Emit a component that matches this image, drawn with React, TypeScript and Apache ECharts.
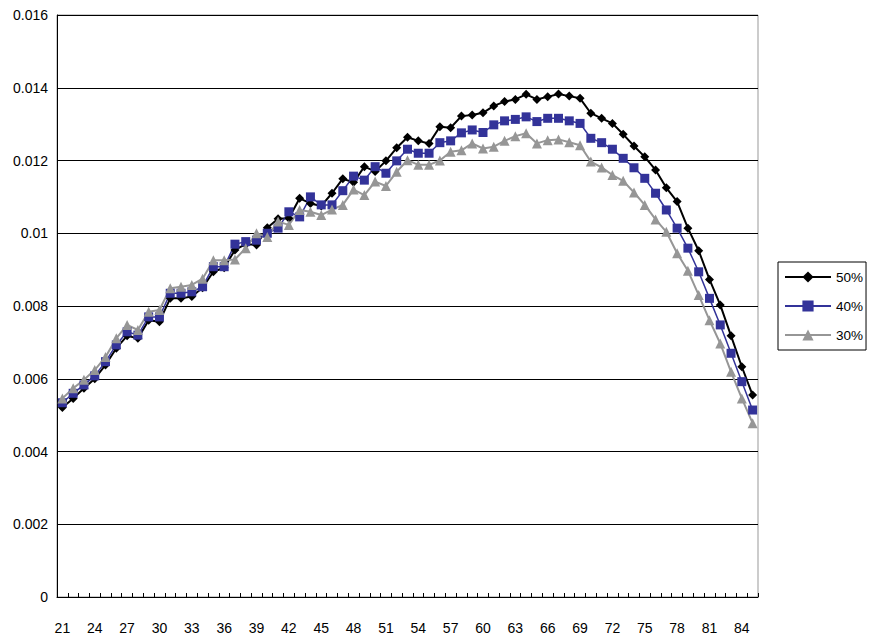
import React, { useEffect, useRef } from "react";
import * as echarts from "echarts";

const ages: string[] = [];
for (let a = 21; a <= 85; a++) ages.push(String(a));

const legendNames = ["50%", "40%", "30%"];

const s50 = [
  0.00521, 0.00546, 0.00574, 0.006, 0.00638, 0.00684, 0.00718, 0.00711, 0.00761, 0.00757,
  0.00821, 0.00821, 0.00826, 0.0085, 0.00894, 0.00905, 0.00954, 0.0097, 0.00968, 0.01015,
  0.0104, 0.01041, 0.01096, 0.01082, 0.01075, 0.0111, 0.0115, 0.0114, 0.01183, 0.0117,
  0.01199, 0.01235, 0.01264, 0.01254, 0.01247, 0.01293, 0.0129, 0.01322, 0.01325, 0.01331,
  0.0135, 0.01362, 0.01368, 0.01382, 0.01368, 0.01375, 0.01383, 0.01377, 0.01371, 0.0133,
  0.01316, 0.01302, 0.01272, 0.0124, 0.0121, 0.01174, 0.01125, 0.01087, 0.01014, 0.00952,
  0.00873, 0.00803, 0.00718, 0.00633, 0.00555,
];

const s40 = [
  0.00534, 0.0056, 0.00583, 0.00608, 0.00647, 0.00693, 0.00729, 0.0072, 0.0077, 0.0077,
  0.00835, 0.00835, 0.00839, 0.00853, 0.00908, 0.00908, 0.0097, 0.00977, 0.00981, 0.01,
  0.01014, 0.01059, 0.01045, 0.011, 0.01078, 0.01078, 0.01117, 0.01157, 0.01146, 0.01183,
  0.01165, 0.01199, 0.01231, 0.0122, 0.0122, 0.01249, 0.01254, 0.01276, 0.01284, 0.01277,
  0.01298, 0.01309, 0.01313, 0.0132, 0.01307, 0.01316, 0.01316, 0.01309, 0.01302, 0.01261,
  0.01249, 0.01231, 0.01206, 0.0118, 0.01151, 0.0111, 0.01064, 0.01014, 0.00959, 0.00894,
  0.00821, 0.00748, 0.0067, 0.00592, 0.00514,
];

const s30 = [
  0.00546, 0.00574, 0.00597, 0.00624, 0.0066, 0.00711, 0.00748, 0.00734, 0.00784, 0.00789,
  0.00849, 0.00853, 0.00858, 0.00875, 0.00926, 0.00926, 0.00928, 0.00959, 0.01, 0.0099,
  0.01032, 0.01023, 0.01064, 0.01059, 0.0105, 0.01065, 0.01078, 0.0112, 0.01105, 0.01142,
  0.0113, 0.01169, 0.01201, 0.01188, 0.01188, 0.012, 0.01224, 0.01228, 0.01247, 0.01233,
  0.01238, 0.01254, 0.01267, 0.01275, 0.01247, 0.01256, 0.01258, 0.0125, 0.01242, 0.01197,
  0.01181, 0.0116, 0.01144, 0.01112, 0.01078, 0.01038, 0.01004, 0.00945, 0.00897, 0.0083,
  0.00761, 0.00697, 0.00619, 0.00546, 0.00478,
];

const FONT = "'Liberation Sans', Arial, sans-serif";

export default function App() {
  const ref = useRef<HTMLDivElement>(null);
  useEffect(() => {
    document.body.style.margin = "0";
    if (!ref.current) return;
    const chart = echarts.init(ref.current, undefined, { renderer: "svg" });
    const mk = (name: string, data: number[], color: string, symbol: string, size: number, width: number) => ({
      name,
      type: "line",
      data,
      symbol,
      symbolSize: size,
      showSymbol: true,
      showAllSymbol: true,
      lineStyle: { color, width },
      itemStyle: { color },
      emphasis: { disabled: true },
    });
    chart.setOption({
      animation: false,
      backgroundColor: "#fff",
      textStyle: { fontFamily: FONT },
      grid: {
        left: 57,
        right: 113,
        top: 15,
        bottom: 41,
        show: true,
        borderColor: "#999",
        borderWidth: 1,
      },
      legend: {
        orient: "vertical",
        left: 778,
        top: 262,
        data: legendNames,
        itemWidth: 46,
        itemHeight: 14,
        itemGap: 15,
        padding: [8, 3, 8, 6],
        borderColor: "#000",
        borderWidth: 1,
        textStyle: { fontFamily: FONT, fontSize: 13.5, color: "#000" },
      },
      xAxis: {
        type: "category",
        data: ages,
        boundaryGap: true,
        axisLine: { lineStyle: { color: "#000", width: 1 } },
        axisTick: { show: true, inside: true, length: 4, interval: 0, lineStyle: { color: "#000" } },
        axisLabel: { interval: 2, margin: 24, fontSize: 14, color: "#000", fontFamily: FONT },
        splitLine: { show: false },
      },
      yAxis: {
        type: "value",
        min: 0,
        max: 0.016,
        interval: 0.002,
        axisLine: { show: true, lineStyle: { color: "#000", width: 1 } },
        axisTick: { show: false },
        axisLabel: {
          margin: 9,
          fontSize: 14,
          color: "#000",
          fontFamily: FONT,
          formatter: (v: number) => (v === 0 ? "0" : String(Number(v.toFixed(3)))),
        },
        splitLine: { show: true, lineStyle: { color: "#000", width: 1 } },
      },
      series: [
        mk(legendNames[0], s50, "#000000", "diamond", 9, 2),
        mk(legendNames[1], s40, "#333399", "rect", 9, 1.5),
        mk(legendNames[2], s30, "#969696", "triangle", 10, 2),
      ],
    });
    return () => chart.dispose();
  }, []);
  return <div ref={ref} style={{ width: 871, height: 638 }} />;
}
